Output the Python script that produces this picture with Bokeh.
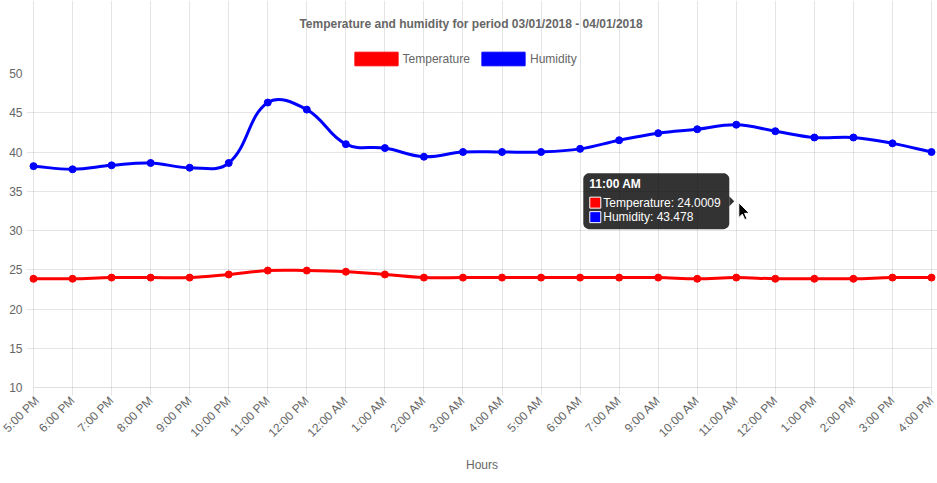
import math
from bokeh.plotting import figure
from bokeh.models import Range1d, FixedTicker, Legend, LegendItem, Label
from bokeh.embed import file_html
from bokeh.resources import INLINE

# ---------------- data ----------------
hours = ["5:00 PM", "6:00 PM", "7:00 PM", "8:00 PM", "9:00 PM", "10:00 PM",
         "11:00 PM", "12:00 PM", "12:00 AM", "1:00 AM", "2:00 AM", "3:00 AM",
         "4:00 AM", "5:00 AM", "6:00 AM", "7:00 AM", "9:00 AM", "10:00 AM",
         "11:00 AM", "12:00 PM", "1:00 PM", "2:00 PM", "3:00 PM", "4:00 PM"]
temperature = [23.85, 23.85, 24.0, 24.0, 24.0, 24.4, 24.9, 24.9, 24.75, 24.4, 24.0, 24.0,
               24.0, 24.0, 24.0, 24.0, 24.0, 23.85, 24.0009, 23.85, 23.85, 23.85, 24.0, 24.0]
humidity = [38.2, 37.8, 38.3, 38.6, 38.0, 38.6, 46.3, 45.4, 41.0, 40.5, 39.4, 40.0,
            40.0, 40.0, 40.4, 41.5, 42.4, 42.9, 43.478, 42.65, 41.85, 41.85, 41.1, 40.0]
y_ticks = [10, 15, 20, 25, 30, 35, 40, 45, 50]
title_text = "Temperature and humidity for period 03/01/2018 - 04/01/2018"
series_names = ["Temperature", "Humidity"]
series_colors = ["#ff0000", "#0000ff"]
tooltip_index = 18

# ---------------- geometry (pixels) ----------------
W, H = 937, 483
PL, PR, PT, PB = 33, 931, 73, 387      # plot area (value axes) edges
FL = 26                                # frame left (room for y tick marks)
N = len(hours)
YMIN, YMAX = y_ticks[0], y_ticks[-1]
SX = (PR - PL) / (N - 1)
SY = (PB - PT) / (YMAX - YMIN)


def to_px(i, v):
    return PL + i * SX, PT + (YMAX - v) * SY


def to_data(px, py):
    return (px - PL) / SX, YMAX - (py - PT) / SY


x_start, _ = to_data(FL, 0)
x_end, y_end = to_data(W, 0)

FONT = "Liberation Sans"
GRAY = "#666666"

p = figure(width=W, height=H, output_backend="svg", toolbar_location=None,
           x_range=Range1d(x_start, x_end), y_range=Range1d(YMIN, y_end),
           min_border_left=FL, min_border_right=0, min_border_top=0,
           min_border_bottom=H - PB)
p.title_location = None
p.outline_line_color = None
p.background_fill_color = "white"
p.border_fill_color = "white"

# axes
xa = p.xaxis[0]
xa.ticker = FixedTicker(ticks=list(range(N)))
xa.major_label_overrides = {i: h for i, h in enumerate(hours)}
xa.major_label_orientation = math.pi / 4
xa.axis_label = "Hours"
xa.bounds = (0, N - 1)
ya = p.yaxis[0]
ya.ticker = FixedTicker(ticks=y_ticks)
ya.bounds = (YMIN, YMAX)
for ax in (xa, ya):
    ax.major_label_text_font = FONT
    ax.major_label_text_font_size = "12px"
    ax.major_label_text_color = GRAY
    ax.axis_label_text_font = FONT
    ax.axis_label_text_font_size = "12px"
    ax.axis_label_text_font_style = "normal"
    ax.axis_label_text_color = GRAY
    ax.minor_tick_line_color = None
    ax.major_tick_in = 0
    ax.major_tick_line_color = "black"
    ax.major_tick_line_alpha = 0.1
xa.axis_line_color = "black"
xa.axis_line_alpha = 0.12
xa.major_tick_out = 8
xa.major_label_standoff = 3
xa.axis_label_standoff = 10
ya.axis_line_color = None
ya.major_tick_out = 0
ya.major_label_standoff = 4

p.xgrid.ticker = FixedTicker(ticks=list(range(N)))
p.xgrid.bounds = (YMIN, YMAX)
p.ygrid.ticker = FixedTicker(ticks=y_ticks[:-1])
p.ygrid.bounds = (x_start, N - 1)
for g in (p.xgrid, p.ygrid):
    g.grid_line_color = "black"
    g.grid_line_alpha = 0.1

# title (Chart.js draws it centred on the canvas)
tx_, ty_ = to_data(W / 2 + 2, 23)
p.add_layout(Label(x=tx_, y=ty_, text=title_text, text_font=FONT, text_font_size="12px",
                   text_font_style="bold", text_color=GRAY, text_align="center",
                   text_baseline="middle"))


# ---------------- smooth lines (Chart.js spline, tension 0.4) ----------------
def spline_segments(vals, t=0.4):
    pts = [to_px(i, v) for i, v in enumerate(vals)]
    n = len(pts)
    prev_cp, next_cp = [], []
    for i in range(n):
        cx, cy = pts[i]
        px, py = pts[i - 1] if i > 0 else pts[i]
        nx, ny = pts[i + 1] if i < n - 1 else pts[i]
        d01 = math.hypot(cx - px, cy - py)
        d12 = math.hypot(nx - cx, ny - cy)
        s = d01 + d12
        s01 = d01 / s if s else 0
        s12 = d12 / s if s else 0
        fa, fb = t * s01, t * s12
        pc = (cx - fa * (nx - px), cy - fa * (ny - py))
        nc = (cx + fb * (nx - px), cy + fb * (ny - py))
        clamp = lambda q: (min(max(q[0], PL), PR), min(max(q[1], PT), PB))
        prev_cp.append(clamp(pc))
        next_cp.append(clamp(nc))
    seg = dict(x0=[], y0=[], x1=[], y1=[], cx0=[], cy0=[], cx1=[], cy1=[])
    for i in range(n - 1):
        a = to_data(*pts[i]); b = to_data(*pts[i + 1])
        c0 = to_data(*next_cp[i]); c1 = to_data(*prev_cp[i + 1])
        seg["x0"].append(a[0]); seg["y0"].append(a[1])
        seg["x1"].append(b[0]); seg["y1"].append(b[1])
        seg["cx0"].append(c0[0]); seg["cy0"].append(c0[1])
        seg["cx1"].append(c1[0]); seg["cy1"].append(c1[1])
    return seg


xs = list(range(N))
legend_items = []
for name, vals, col in zip(series_names, [temperature, humidity], series_colors):
    seg = spline_segments(vals)
    p.bezier(line_color=col, line_width=3, **seg)
    p.scatter(xs, vals, size=7, fill_color=col, line_color=col, line_width=1)
    # legend swatch renderer, kept outside the visible x range
    r = p.quad(left=[-30], right=[-29], top=[0], bottom=[-1], fill_color=col,
               line_color=col, line_width=1)
    legend_items.append(LegendItem(label=name, renderers=[r]))

legend = Legend(items=legend_items, orientation="horizontal",
                location=(348.6 - FL, PB - 67),
                glyph_width=54, glyph_height=17, label_text_font=FONT,
                label_text_font_size="12px", label_text_color=GRAY,
                label_standoff=0, spacing=6, padding=0, margin=0,
                border_line_color=None, background_fill_alpha=0)
p.add_layout(legend)

# ---------------- tooltip ----------------
ti = tooltip_index
avg = (temperature[ti] + humidity[ti]) / 2
ax_px, ay_px = to_px(ti, avg)
right = ax_px - 7
left = right - 146
top = ay_px - 28
bot = ay_px + 28
rad = 6
bx, by = [], []
for (cx, cy, a0) in [(right - rad, top + rad, -90), (right - rad, bot - rad, 0),
                     (left + rad, bot - rad, 90), (left + rad, top + rad, 180)]:
    for k in range(7):
        a = math.radians(a0 + k * 15)
        dx, dy = to_data(cx + rad * math.cos(a), cy + rad * math.sin(a))
        bx.append(dx); by.append(dy)
p.patch(bx, by, fill_color="black", fill_alpha=0.8, line_color=None)
caret = [to_data(right, ay_px - 5), to_data(right + 5, ay_px), to_data(right, ay_px + 5)]
p.patch([c[0] for c in caret], [c[1] for c in caret], fill_color="black",
        fill_alpha=0.8, line_color=None)

tx = left + 6
lx, ly = to_data(tx, ay_px - 17.3)
p.add_layout(Label(x=lx, y=ly, text=hours[ti], text_font=FONT, text_font_size="12px",
                   text_font_style="bold", text_color="white", text_baseline="middle"))
lines = [f"{series_names[0]}: {temperature[ti]}", f"{series_names[1]}: {humidity[ti]}"]
for k, (txt, col) in enumerate(zip(lines, series_colors)):
    cy = ay_px + 1.5 + k * 14.5
    sx_, sy_ = to_data(tx + 6, cy)
    p.rect([sx_], [sy_], width=11, height=11, width_units="screen", height_units="screen",
           fill_color=col, line_color="white", line_width=1)
    qx, qy = to_data(tx + 14, cy)
    p.add_layout(Label(x=qx, y=qy, text=txt, text_font=FONT, text_font_size="12px",
                       text_color="white", text_baseline="middle"))

# mouse cursor
tipx, tipy = ax_px + 2.5, ay_px + 1.5
shape = [(0, 0), (0, 15), (3.5, 11.5), (6, 17), (8.2, 16), (5.8, 10.7), (10.5, 10.7)]
cur = [to_data(tipx + a, tipy + b) for a, b in shape]
p.patch([c[0] for c in cur], [c[1] for c in cur], fill_color="black",
        line_color="white", line_width=1)

open("out.html", "w").write(file_html(p, INLINE))
